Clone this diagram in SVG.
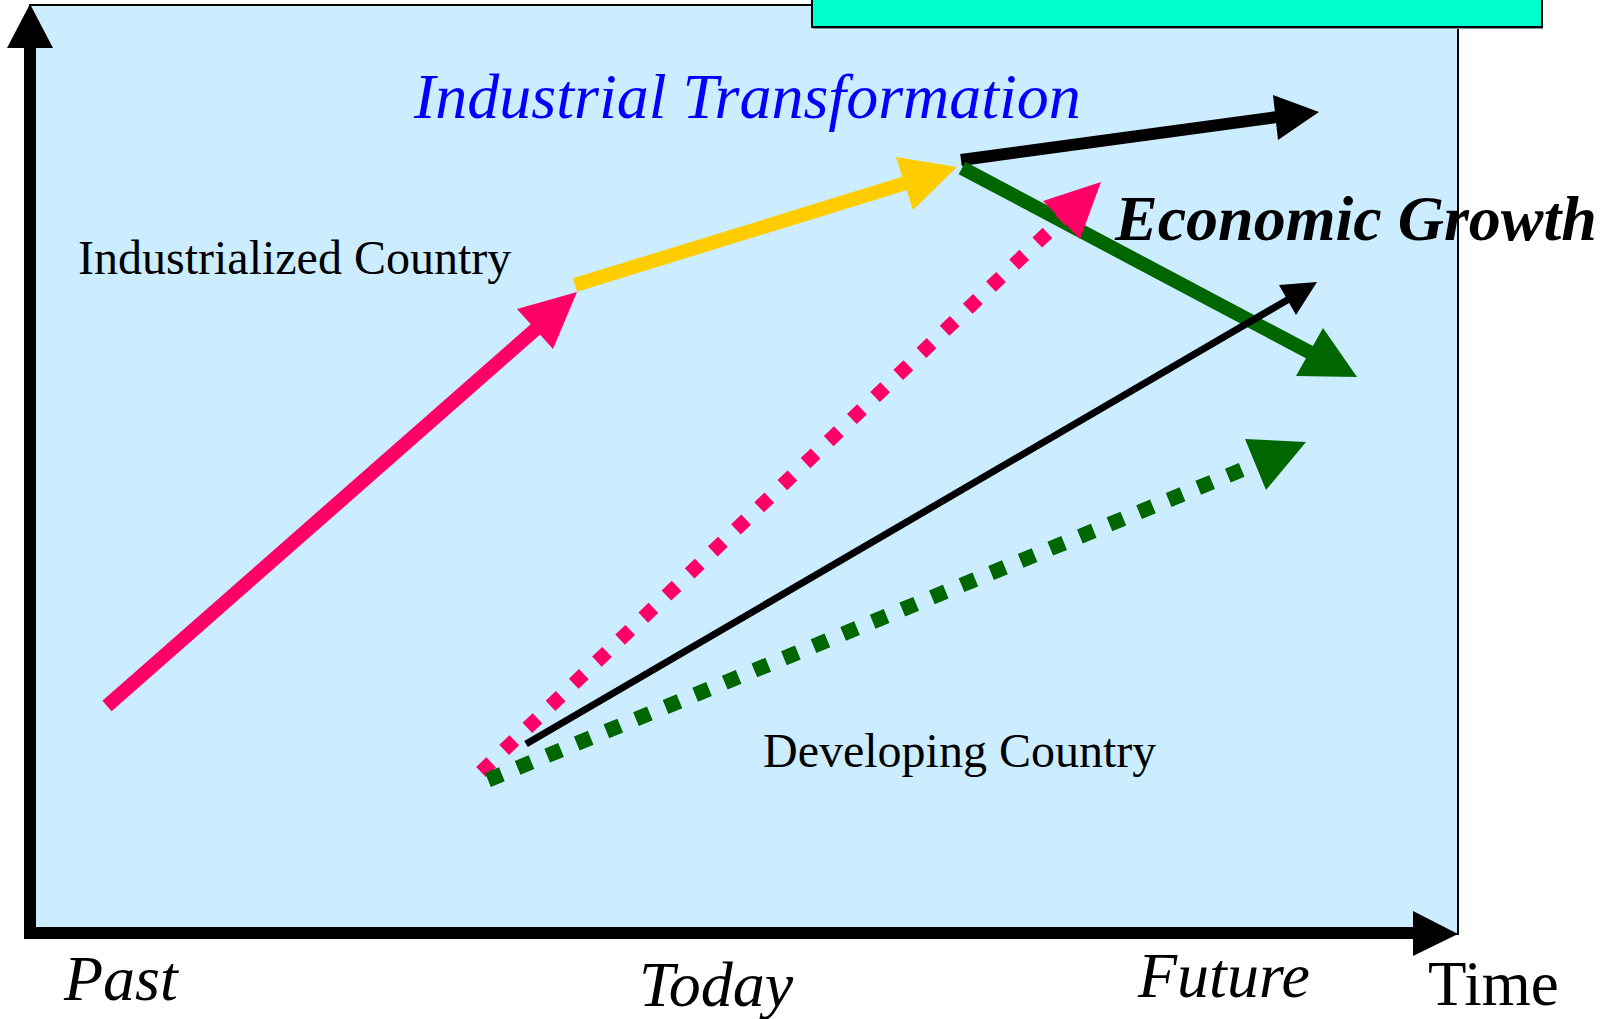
<svg xmlns="http://www.w3.org/2000/svg" width="1604" height="1019" viewBox="0 0 1604 1019">
<style>
.t{font-family:"Liberation Serif","Times New Roman",serif;fill:#000}
.it{font-style:italic}
.thick{fill:none;stroke-linecap:butt}
</style>
<rect x="0" y="0" width="1604" height="1019" fill="#ffffff"/>
<g id="panel">
<rect x="30" y="5" width="1428" height="929" fill="#CCECFF" stroke="#000" stroke-width="2"/>
</g>
<g id="banner">
<rect x="813" y="-1" width="730" height="30" fill="#7f8f99"/>
<rect x="812" y="-2" width="730" height="29" fill="#00FFCC" stroke="#000" stroke-width="2"/>
</g>
<g id="axes">
<line x1="30" y1="934" x2="30" y2="46" stroke="#000" stroke-width="12"/>
<polygon points="30,4 7,48 53,48" fill="#000"/>
<line x1="24" y1="933" x2="1415" y2="933" stroke="#000" stroke-width="12"/>
<polygon points="1458,934 1413,911 1413,956" fill="#000"/>
</g>
<g id="connectors">
<g id="industrialized-growth">
<line class="thick" x1="107" y1="706" x2="537" y2="328" stroke="#FF0066" stroke-width="14"/>
<polygon points="577,292 517,309 553,349" fill="#FF0066"/>
</g>
<g id="industrialized-transformation">
<line class="thick" x1="575" y1="285" x2="906" y2="183" stroke="#FFCC00" stroke-width="14"/>
<polygon points="957,167 913,210 896,157" fill="#FFCC00"/>
</g>
<g id="future-up">
<line class="thick" x1="961" y1="160" x2="1277" y2="117" stroke="#000" stroke-width="12"/>
<polygon points="1319,112 1273,95 1278,140" fill="#000"/>
</g>
<g id="future-down">
<line class="thick" x1="962" y1="168" x2="1311" y2="353" stroke="#006600" stroke-width="14"/>
<polygon points="1357,377 1323,328 1296,376" fill="#006600"/>
</g>
<g id="developing-catchup">
<line class="thick" x1="481" y1="772" x2="1062" y2="219" stroke="#FF0066" stroke-width="14" stroke-dasharray="14 18"/>
<polygon points="1101,182 1043,201 1080,239" fill="#FF0066"/>
</g>
<g id="developing-trend">
<line class="thick" x1="526" y1="744" x2="1289" y2="299" stroke="#000" stroke-width="7"/>
<polygon points="1317,282 1279,285 1296,315" fill="#000"/>
</g>
<g id="developing-slow">
<line class="thick" x1="488" y1="780" x2="1256" y2="464" stroke="#006600" stroke-width="15" stroke-dasharray="15 17"/>
<polygon points="1306,442 1245,439 1266,490" fill="#006600"/>
</g>
</g>
<g id="labels">
<text id="industrial-transformation" class="t it" x="414" y="118" font-size="64" style="fill:#0000FF">Industrial Transformation</text>
<text id="industrialized-country" class="t" x="78" y="274" font-size="48">Industrialized Country</text>
<text id="economic-growth" class="t it" x="1115" y="240" font-size="64" font-weight="bold">Economic Growth</text>
<text id="developing-country" class="t" x="763" y="767" font-size="48">Developing Country</text>
<text id="past" class="t it" x="64" y="1000" font-size="64">Past</text>
<text id="today" class="t it" x="639" y="1006" font-size="64">Today</text>
<text id="future" class="t it" x="1138" y="997" font-size="64">Future</text>
<text id="time" class="t" x="1428" y="1005" font-size="63">Time</text>
</g>
</svg>
